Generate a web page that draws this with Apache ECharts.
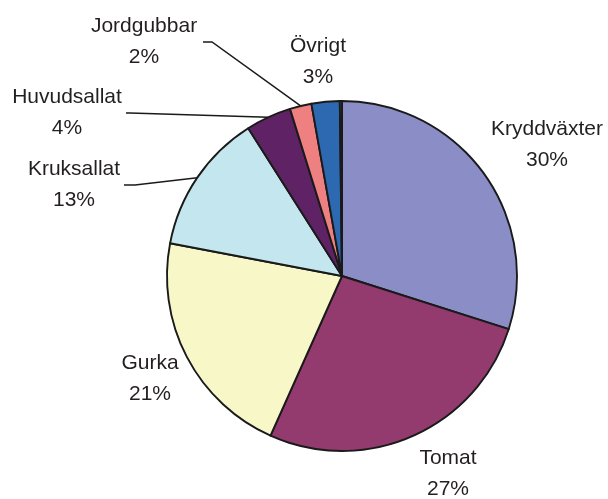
<!DOCTYPE html>
<html><head><meta charset="utf-8">
<script src="https://cdn.jsdelivr.net/npm/echarts@6/dist/echarts.min.js"></script>
<style>html,body{margin:0;padding:0;background:#fff}#c{width:608px;height:499px}</style>
</head><body><div id="c"></div>
<script>
const categories = ['Kryddväxter','Tomat','Gurka','Kruksallat','Huvudsallat','Jordgubbar','Övrigt',''];
const values = [29.9, 26.8, 21.3, 13.0, 4.2, 2.0, 2.6, 0.2];
const pctLabels = ['30%','27%','21%','13%','4%','2%','3%',''];
const colors = ['#8b8ec6','#933a6e','#f8f7c8','#c3e6ef','#5f2265','#ef8082','#2d69b1','#666666'];
const showLine = [false,false,false,true,true,true,false,false];
// label block anchor (center) positions and line bend/end points
const labelPos = [[547,145],[448,474],[150,379],[74,185],[67,113],[144,42],[318,62],null];
const lineBend = [null,null,null,[[135,185],[124,185]],[[130,113],[126,113]],[[212,42],[203,42]],null,null];

const chart = echarts.init(document.getElementById('c'), null, {renderer:'canvas'});
const data = categories.map((n,i)=>({
  name:n, value:values[i],
  itemStyle:{color:colors[i]},
  label:{show: pctLabels[i] !== ''},
  labelLine:{show: showLine[i]}
}));
chart.setOption({
  animation:false,
  series:[{
    type:'pie',
    center:[342,276],
    radius:175,
    startAngle:90,
    clockwise:true,
    avoidLabelOverlap:false,
    itemStyle:{borderColor:'#1a1a1a',borderWidth:1.9},
    label:{
      position:'outside',
      formatter:p=>p.name+'\n'+pctLabels[p.dataIndex],
      fontFamily:'Liberation Sans, Arial, sans-serif',
      fontSize:21,
      lineHeight:31,
      color:'#231f20',
      align:'center'
    },
    labelLine:{lineStyle:{color:'#1a1a1a',width:1.5},length:10,length2:10},
    labelLayout:function(p){
      const i=p.dataIndex;
      const pos=labelPos[i];
      if(!pos) return {};
      const r={x:pos[0],y:pos[1],align:'center',verticalAlign:'middle'};
      if(lineBend[i] && p.labelLinePoints){
        r.labelLinePoints=[p.labelLinePoints[0],lineBend[i][0],lineBend[i][1]];
      }
      return r;
    },
    data:data
  }]
});
</script></body></html>
